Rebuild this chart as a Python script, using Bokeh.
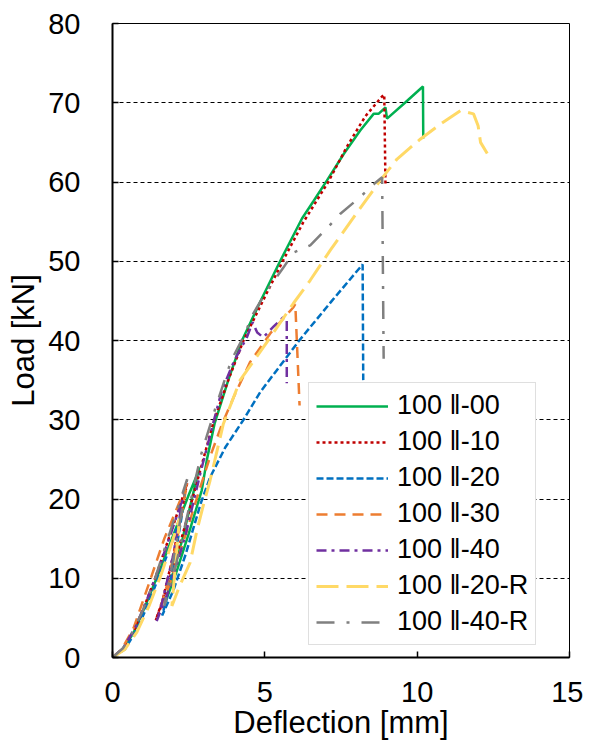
from bokeh.plotting import figure
from bokeh.models import Range1d, FixedTicker, Legend, LegendItem
from bokeh.embed import file_html
from bokeh.resources import INLINE

# ---- data (deflection [mm], load [kN]) ----
labels = ["100 \u2016-00", "100 \u2016-10", "100 \u2016-20", "100 \u2016-30",
          "100 \u2016-40", "100 \u2016-20-R", "100 \u2016-40-R"]

s00_x = [0, 0.35, 0.7, 1.01, 1.5, 2.0, 2.5, 2.77, 2.85, 2.3, 1.9, 1.72, 2.1, 2.5, 2.93, 3.1, 3.35, 3.8, 4.25, 4.9, 5.5, 5.9, 6.22, 6.6, 7.04, 7.6, 8.13, 8.57, 8.73, 8.96, 9.01, 9.6, 10.19, 10.2]
s00_y = [0, 1.0, 3.2, 5.9, 10.5, 15.5, 20.5, 23.0, 24.0, 15.0, 9.5, 6.8, 10.8, 15.6, 21.1, 25.0, 29.5, 35.0, 40.0, 45.3, 50.0, 53.0, 55.4, 57.6, 60.2, 63.6, 66.5, 68.6, 68.6, 69.4, 68.0, 70.0, 72.05, 65.5]

s10_x = [0, 0.35, 0.7, 1.0, 1.4, 1.8, 2.2, 2.45, 2.0, 1.6, 1.42, 1.8, 2.3, 2.8, 3.3, 3.8, 4.3, 5.0, 5.6, 6.26, 7.08, 7.7, 8.3, 8.85, 8.92, 8.96]
s10_y = [0, 1.0, 3.3, 6.0, 10.0, 14.5, 19.0, 22.0, 13.0, 6.5, 4.7, 9.0, 15.5, 22.5, 29.5, 35.0, 40.0, 45.5, 50.1, 54.9, 60.0, 64.5, 68.3, 70.8, 71.0, 59.6]

s20_x = [0, 0.4, 0.8, 1.2, 1.6, 2.0, 2.3, 2.0, 1.75, 1.63, 2.0, 2.4, 2.9, 3.2, 3.7, 4.3, 4.85, 5.5, 6.13, 7.2, 8.21, 8.23]
s20_y = [0, 1.0, 3.5, 7.0, 11.0, 15.0, 18.5, 11.5, 7.0, 5.3, 8.5, 13.0, 19.5, 22.7, 26.5, 30.0, 33.5, 36.8, 40.0, 45.0, 49.6, 35.0]

s30_x = [0, 0.3, 0.7, 1.23, 1.7, 2.22, 2.45, 2.1, 1.75, 1.55, 1.9, 2.4, 2.8, 3.2, 3.6, 4.03, 4.52, 5.2, 5.94, 6.0, 6.14]
s30_y = [0, 1.0, 3.8, 9.7, 15.0, 19.8, 22.0, 14.5, 8.5, 6.0, 9.5, 15.5, 20.5, 25.3, 29.5, 33.3, 37.3, 41.0, 44.2, 44.6, 31.8]

s40_x = [0, 0.35, 0.75, 1.1, 1.5, 1.9, 2.3, 2.0, 1.6, 1.45, 1.9, 2.4, 2.9, 3.3, 3.59, 4.0, 4.4, 4.6, 4.75, 4.95, 5.3, 5.6, 5.72, 5.72]
s40_y = [0, 1.2, 3.8, 7.0, 11.0, 15.5, 20.0, 13.0, 6.5, 4.6, 9.0, 15.5, 23.5, 29.5, 33.7, 37.5, 40.3, 42.3, 41.0, 40.4, 41.8, 42.9, 42.5, 34.6]

s20r_x = [0, 0.4, 0.8, 1.2, 1.6, 1.95, 2.2, 2.05, 1.95, 2.2, 2.55, 2.77, 3.0, 3.2, 3.64, 4.19, 4.52, 5.18, 5.94, 6.49, 7.15, 8.0, 8.79, 9.34, 10.1, 10.76, 11.42, 11.85, 12.0, 12.08, 12.3]
s20r_y = [0, 1.0, 3.2, 6.5, 10.5, 14.5, 17.5, 11.0, 6.5, 9.0, 12.0, 16.0, 19.5, 22.3, 29.5, 35.0, 36.8, 40.4, 44.7, 47.6, 51.4, 56.0, 60.2, 62.9, 65.4, 67.3, 69.0, 68.6, 67.1, 65.0, 63.6]

s40r_x = [0, 0.35, 0.7, 1.0, 1.4, 1.8, 2.2, 2.45, 2.1, 1.8, 1.7, 2.1, 2.55, 2.9, 3.42, 3.9, 4.3, 4.62, 5.07, 5.61, 5.94, 6.49, 7.0, 7.48, 8.13, 8.6, 8.85, 8.9]
s40r_y = [0, 1.2, 3.5, 6.0, 10.0, 14.8, 19.5, 22.5, 14.5, 8.5, 6.5, 12.0, 19.5, 25.5, 32.0, 37.5, 40.5, 43.4, 46.3, 49.2, 51.1, 52.0, 54.0, 56.0, 58.1, 59.8, 60.6, 37.7]

x_ticks = [0, 5, 10, 15]
y_ticks = [0, 10, 20, 30, 40, 50, 60, 70, 80]

# ---- styles ----
series = [
    (s00_x, s00_y, "#00B050", None, 2.5),
    (s10_x, s10_y, "#C00000", "3 3", 2.5),
    (s20_x, s20_y, "#0070C0", "7 3", 2.5),
    (s30_x, s30_y, "#ED7D31", "11 7", 2.5),
    (s40_x, s40_y, "#7030A0", "10 5 3 5", 2.5),
    (s20r_x, s20r_y, "#FFD966", "22 8", 3),
    (s40r_x, s40r_y, "#808080", "18 12 3 12", 2.5),
]

FONT = "Liberation Sans"

p = figure(width=583, height=745, output_backend="svg", toolbar_location=None,
           x_range=Range1d(0, 15), y_range=Range1d(0, 80),
           min_border_left=112, min_border_right=14, min_border_top=23, min_border_bottom=88)

p.outline_line_color = "black"
p.outline_line_width = 1
p.xgrid.visible = False
p.ygrid.grid_line_color = "black"
p.ygrid.grid_line_dash = "4 3"
p.ygrid.grid_line_width = 1
p.ygrid.ticker = FixedTicker(ticks=y_ticks)

p.xaxis.ticker = FixedTicker(ticks=x_ticks)
p.yaxis.ticker = FixedTicker(ticks=y_ticks)
for ax in (p.xaxis[0], p.yaxis[0]):
    ax.axis_line_width = 2
    ax.axis_line_color = "black"
    ax.major_tick_in = 6
    ax.major_tick_out = 0
    ax.major_tick_line_width = 1.5
    ax.major_tick_line_color = "black"
    ax.minor_tick_line_color = None
    ax.major_label_text_font = FONT
    ax.major_label_text_font_size = "29px"
    ax.major_label_text_color = "black"
    ax.axis_label_text_font = FONT
    ax.axis_label_text_font_size = "31px"
    ax.axis_label_text_font_style = "normal"
    ax.axis_label_text_color = "black"

p.xaxis.axis_label = "Deflection [mm]"
p.yaxis.axis_label = "Load [kN]"
p.xaxis.major_label_standoff = 24
p.xaxis.axis_label_standoff = 0
p.yaxis.major_label_standoff = 32
p.yaxis.axis_label_standoff = 4

renderers = []
for xs, ys, color, dash, w in series:
    kw = dict(line_color=color, line_width=w)
    if dash:
        kw["line_dash"] = dash
    r = p.line(xs, ys, **kw)
    renderers.append(r)

legend = Legend(items=[LegendItem(label=lab, renderers=[r]) for lab, r in zip(labels, renderers)],
                location=(196, 12))
legend.border_line_color = "#BFBFBF"
legend.border_line_width = 1.5
legend.background_fill_color = "white"
legend.background_fill_alpha = 1
legend.label_text_font = FONT
legend.label_text_font_size = "27px"
legend.label_text_color = "black"
legend.glyph_width = 72
legend.glyph_height = 30
legend.label_height = 30
legend.label_standoff = 9
legend.spacing = 5
legend.padding = 7
legend.margin = 0
p.add_layout(legend)

open("out.html", "w").write(file_html(p, INLINE))
